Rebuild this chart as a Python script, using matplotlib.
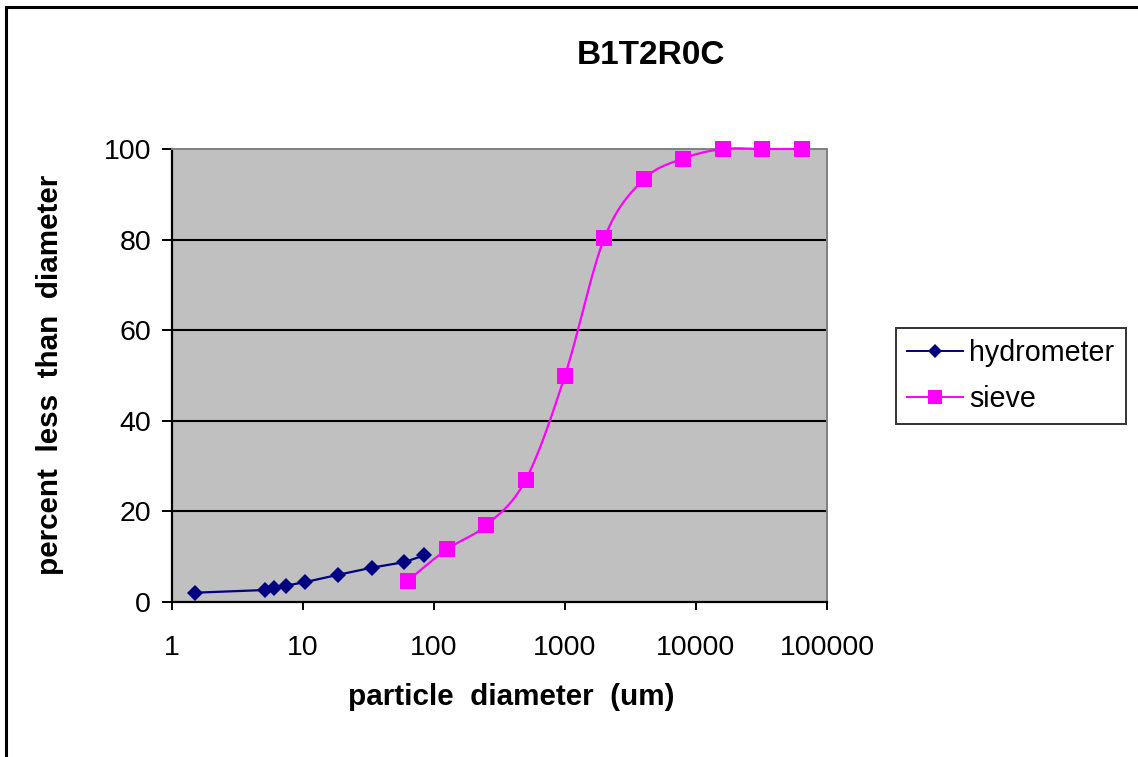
import numpy as np
import matplotlib
matplotlib.use("Agg")
import matplotlib.pyplot as plt
from matplotlib.patches import Rectangle
from matplotlib.ticker import FixedLocator, FixedFormatter, NullLocator

# ---- data ----
hydro_d = [1.49, 5.15, 6.04, 7.38, 10.4, 18.5, 33.8, 59.3, 84.3]
hydro_p = [2.05, 2.65, 3.16, 3.6, 4.4, 6.0, 7.6, 8.8, 10.3]
sieve_d = [63, 125, 250, 500, 1000, 2000, 4000, 8000, 16000, 32000, 64000]
sieve_p = [4.7, 11.6, 16.9, 26.9, 50.0, 80.4, 93.3, 97.9, 100, 100, 100]
x_ticks = [1, 10, 100, 1000, 10000, 100000]
x_ticklabels = ["1", "10", "100", "1000", "10000", "100000"]
y_ticks = [0, 20, 40, 60, 80, 100]
title = "B1T2R0C"
xlabel = "particle  diameter  (um)"
ylabel = "percent  less  than  diameter"

plt.rcParams['font.family'] = ['Liberation Sans', 'DejaVu Sans']

W, H, DPI = 1138, 757, 100
fig = plt.figure(figsize=(W / DPI, H / DPI), dpi=DPI)

L, R, B, T = 172, 827, 602, 149
ax = fig.add_axes([L / W, 1 - B / H, (R - L) / W, (B - T) / H])
ax.set_facecolor('#C0C0C0')
ax.set_xscale('log')
ax.set_xlim(1, 100000)
ax.set_ylim(0, 100)


def smooth(xs, ys, n=40):
    # Excel-like smoothed line: Catmull-Rom style Bezier in pixel-like space
    u = np.log10(np.asarray(xs, float)) * (R - L) / 5.0
    v = np.asarray(ys, float) * (B - T) / 100.0
    P = np.column_stack([u, v])
    out = []
    m = len(P)
    for i in range(m - 1):
        p0 = P[i - 1] if i > 0 else P[i]
        p1 = P[i]
        p2 = P[i + 1]
        p3 = P[i + 2] if i + 2 < m else P[i + 1]
        c1 = p1 + (p2 - p0) / 6.0
        c2 = p2 - (p3 - p1) / 6.0
        t = np.linspace(0, 1, n)[:, None]
        seg = ((1 - t) ** 3) * p1 + 3 * ((1 - t) ** 2) * t * c1 + 3 * (1 - t) * t ** 2 * c2 + t ** 3 * p2
        out.append(seg if i == 0 else seg[1:])
    S = np.vstack(out)
    return 10 ** (S[:, 0] * 5.0 / (R - L)), S[:, 1] * 100.0 / (B - T)


for yv in y_ticks[1:-1]:
    ax.axhline(yv, color='black', lw=1.5, zorder=1)

ax.plot(hydro_d, hydro_p, color='#000080', lw=1.6, zorder=3)
ax.plot(hydro_d, hydro_p, ls='none', marker='D', ms=7.8, color='#000080',
        mew=0, zorder=4, clip_on=False)

sx, sy = smooth(sieve_d, sieve_p)
ax.plot(sx, sy, color='#FF00FF', lw=1.6, zorder=3, clip_on=False)
ax.plot(sieve_d, sieve_p, ls='none', marker='s', ms=11.5, color='#FF00FF',
        mew=0, zorder=4, clip_on=False)

# legend proxies
h1, = ax.plot([], [], color='#000080', lw=1.4, marker='D', ms=7.5, mew=0)
h2, = ax.plot([], [], color='#FF00FF', lw=1.4, marker='s', ms=10.5, mew=0)

ax.xaxis.set_major_locator(FixedLocator(x_ticks))
ax.xaxis.set_major_formatter(FixedFormatter(x_ticklabels))
ax.xaxis.set_minor_locator(NullLocator())
ax.set_yticks(y_ticks)
ax.tick_params(axis='both', direction='out', color='black', width=1.4,
               labelsize=20.5, labelcolor='black')
ax.tick_params(axis='y', length=7, pad=8)
ax.tick_params(axis='x', length=6, pad=18)

for s in ['left', 'bottom']:
    ax.spines[s].set_color('black')
    ax.spines[s].set_linewidth(1.6)
for s in ['top', 'right']:
    ax.spines[s].set_color('#808080')
    ax.spines[s].set_linewidth(1.4)

fig.text(651 / W, 1 - 55 / H, title, ha='center', va='center',
         fontsize=24, fontweight='bold')
fig.text(511 / W, 1 - 697 / H, xlabel, ha='center', va='center',
         fontsize=21.3, fontweight='bold')
fig.text(50 / W, 1 - 375 / H, ylabel, ha='center', va='center',
         rotation=90, fontsize=21.3, fontweight='bold')

leg = fig.legend([h1, h2], ['hydrometer', 'sieve'],
                 loc='upper left', bbox_to_anchor=(896 / W, 1 - 328 / H),
                 frameon=True, fancybox=False, edgecolor='black',
                 fontsize=20.6, handlelength=1.95, handletextpad=0.2,
                 borderpad=0.4, labelspacing=0.6, borderaxespad=0)
leg.get_frame().set_linewidth(1.4)

fig.add_artist(Rectangle((6 / W, -0.05), 1.2, 1.05 - 7 / H,
                         transform=fig.transFigure, fill=False,
                         edgecolor='black', lw=2.2))

fig.savefig('out.png', dpi=DPI)
